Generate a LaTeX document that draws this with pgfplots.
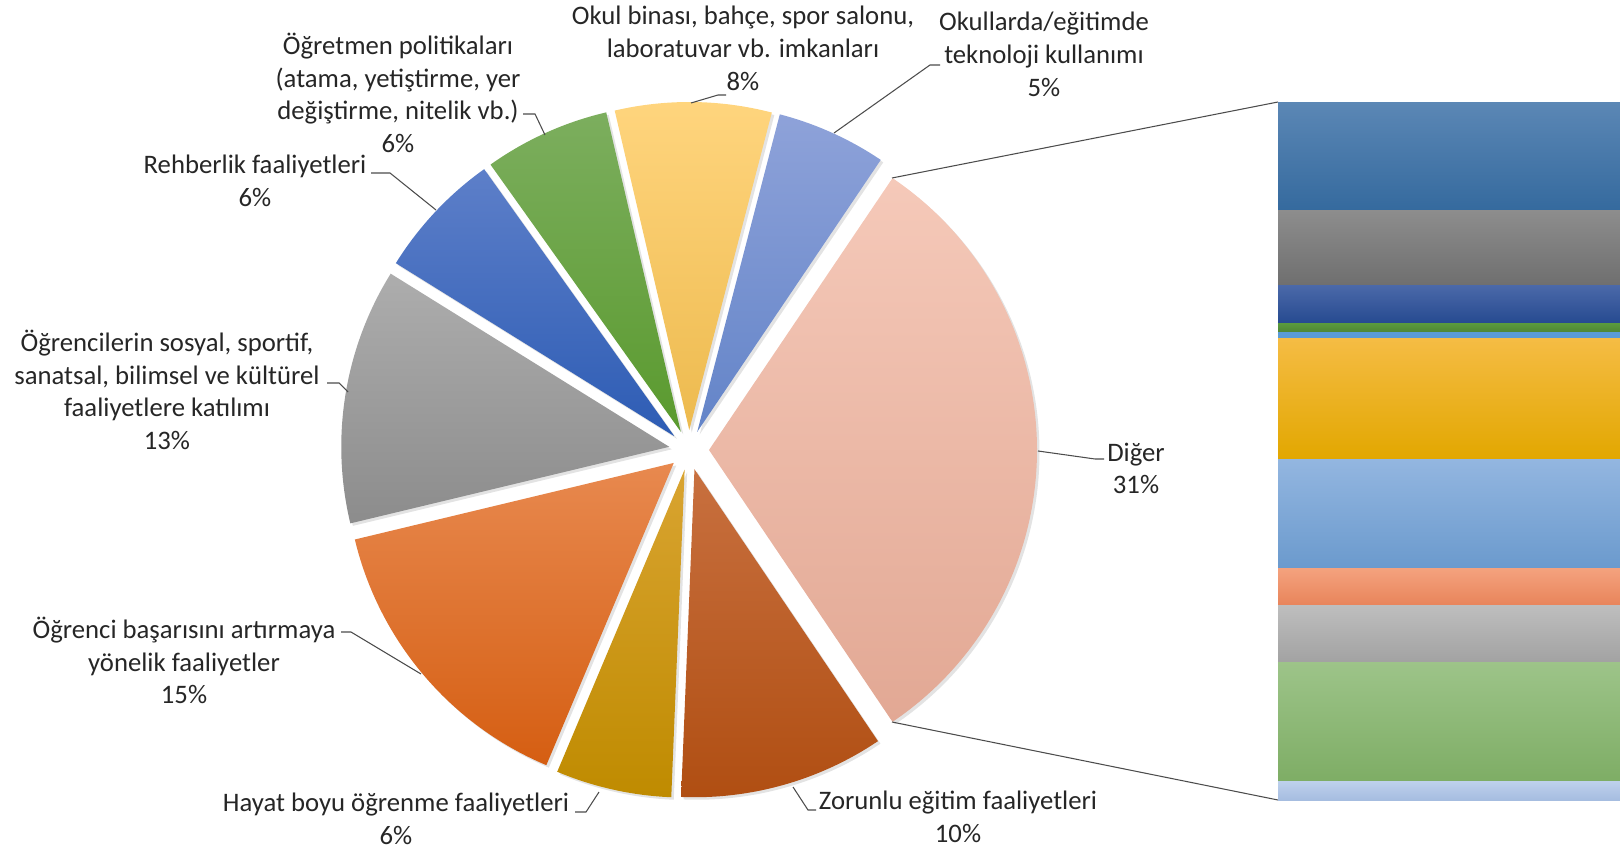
\documentclass[border=0pt]{standalone}
\usepackage{pgfplots}
\pgfplotsset{compat=1.18}
\usepackage{fontspec}
\setmainfont{Carlito}
\usetikzlibrary{shadows}

% pie slices (top / bottom of the gradient)
\definecolor{digT}{HTML}{F5C9B9}\definecolor{digB}{HTML}{E2A894}
\definecolor{tekT}{HTML}{8EA2D9}\definecolor{tekB}{HTML}{6384C8}
\definecolor{okT}{HTML}{FFD57E}\definecolor{okB}{HTML}{EDBA4E}
\definecolor{ogrT}{HTML}{7CAE5E}\definecolor{ogrB}{HTML}{5A9A2E}
\definecolor{rehT}{HTML}{5D7FC9}\definecolor{rehB}{HTML}{2D5CB4}
\definecolor{sosT}{HTML}{ADADAD}\definecolor{sosB}{HTML}{8C8C8C}
\definecolor{basT}{HTML}{E8894F}\definecolor{basB}{HTML}{D55E12}
\definecolor{hayT}{HTML}{D9A431}\definecolor{hayB}{HTML}{BF8B00}
\definecolor{zorT}{HTML}{C8703F}\definecolor{zorB}{HTML}{B04E12}
% bar segments, bottom to top
\definecolor{b1T}{HTML}{BDD0EC}\definecolor{b1B}{HTML}{A5BCE0}
\definecolor{b2T}{HTML}{9DC489}\definecolor{b2B}{HTML}{7EAD65}
\definecolor{b3T}{HTML}{BEBEBE}\definecolor{b3B}{HTML}{A2A2A2}
\definecolor{b4T}{HTML}{F4A27E}\definecolor{b4B}{HTML}{E8845A}
\definecolor{b5T}{HTML}{93B6E0}\definecolor{b5B}{HTML}{6B9ACD}
\definecolor{b6T}{HTML}{F5BC44}\definecolor{b6B}{HTML}{E2A700}
\definecolor{b7T}{HTML}{5B9BD5}\definecolor{b7B}{HTML}{5B9BD5}
\definecolor{b8T}{HTML}{5A9A3E}\definecolor{b8B}{HTML}{4E8533}
\definecolor{b9T}{HTML}{4B69A9}\definecolor{b9B}{HTML}{264A90}
\definecolor{b10T}{HTML}{8D8D8D}\definecolor{b10B}{HTML}{6F6F6F}
\definecolor{b11T}{HTML}{5B87B5}\definecolor{b11B}{HTML}{356A9E}

\begin{document}
\begin{tikzpicture}[
  lab/.style={align=center, inner sep=0pt, text=black!85,
    font=\fontsize{7.6}{9.3}\selectfont},
  lead/.style={draw=black!70, line width=0.3pt}]
\begin{axis}[
  scale only axis, width=162mm, height=84.9mm,
  xmin=0, xmax=1620, ymin=0, ymax=849, y dir=reverse,
  hide axis, clip=false]

% pie: percent / colours, from "Diger" counter-clockwise
\gdef\astart{-55.98}
\foreach \p/\ct/\cb in {31.1/digT/digB, 5.4/tekT/tekB, 7.7/okT/okB, 6.2/ogrT/ogrB,
    6.3/rehT/rehB, 12.6/sosT/sosB, 14.9/basT/basB, 5.7/hayT/hayB, 10.1/zorT/zorB}{
  \pgfmathsetmacro\aend{\astart+3.6*\p}
  \pgfmathsetmacro\amid{(\astart+\aend)/2}
  \pgfmathsetmacro\ox{689+20*cos(\amid)}
  \pgfmathsetmacro\oy{450-20*sin(\amid)}
  \edef\slice{\noexpand\path[top color=\ct, bottom color=\cb,
      drop shadow={shadow xshift=0.25mm, shadow yshift=-0.25mm, opacity=0.22}]
    (axis cs:\ox,\oy) -- ++(\astart:32.8mm)
    arc[start angle=\astart, end angle=\aend, radius=32.8mm] -- cycle;}
  \slice
  \xdef\astart{\aend}
}

% connectors to the bar
\draw[lead] (axis cs:892,178) -- (axis cs:1278,102);
\draw[lead] (axis cs:892,722) -- (axis cs:1278,800);

% leader lines
\draw[lead] (axis cs:691,103) -- (axis cs:718,95) -- (axis cs:726,95);
\draw[lead] (axis cs:834,133) -- (axis cs:930,65) -- (axis cs:940,65);
\draw[lead] (axis cs:545,135) -- (axis cs:535,114) -- (axis cs:523,114);
\draw[lead] (axis cs:436,210) -- (axis cs:390,173) -- (axis cs:371,173);
\draw[lead] (axis cs:348,392) -- (axis cs:339,383) -- (axis cs:327,383);
\draw[lead] (axis cs:421,674) -- (axis cs:351,632) -- (axis cs:341,632);
\draw[lead] (axis cs:599,792) -- (axis cs:586,812) -- (axis cs:575,812);
\draw[lead] (axis cs:793,787) -- (axis cs:808,810) -- (axis cs:816,810);
\draw[lead] (axis cs:1038,451) -- (axis cs:1095,459) -- (axis cs:1104,459);

% labels
\node[lab] at (axis cs:743,48.5) {Okul binası, bahçe, spor salonu,\\laboratuvar vb. imkanları\\8\%};
\node[lab] at (axis cs:1044,54.3) {Okullarda/eğitimde\\teknoloji kullanımı\\5\%};
\node[lab] at (axis cs:398,93) {Öğretmen politikaları\\(atama, yetiştirme, yer\\değiştirme, nitelik vb.)\\6\%};
\node[lab] at (axis cs:255,181) {Rehberlik faaliyetleri\\6\%};
\node[lab] at (axis cs:167,390) {Öğrencilerin sosyal, sportif,\\sanatsal, bilimsel ve kültürel\\faaliyetlere katılımı\\13\%};
\node[lab] at (axis cs:184,660.5) {Öğrenci başarısını artırmaya\\yönelik faaliyetler\\15\%};
\node[lab] at (axis cs:396,818.5) {Hayat boyu öğrenme faaliyetleri\\6\%};
\node[lab] at (axis cs:958,816.5) {Zorunlu eğitim faaliyetleri\\10\%};
\node[lab] at (axis cs:1136,468.5) {Diğer\\31\%};
\end{axis}

% breakdown of "Diger" as one stacked bar
\begin{axis}[
  at={(127.8mm,4.83mm)}, anchor=south west,
  scale only axis, width=34.2mm, height=69.84mm,
  xmin=0, xmax=1, ymin=0, ymax=30.99,
  hide axis, clip=false,
  ybar stacked, bar width=34.2mm]
\addplot[draw=none, top color=b1T, bottom color=b1B] coordinates {(0.5,0.84)};
\addplot[draw=none, top color=b2T, bottom color=b2B] coordinates {(0.5,5.31)};
\addplot[draw=none, top color=b3T, bottom color=b3B] coordinates {(0.5,2.50)};
\addplot[draw=none, top color=b4T, bottom color=b4B] coordinates {(0.5,1.66)};
\addplot[draw=none, top color=b5T, bottom color=b5B] coordinates {(0.5,4.84)};
\addplot[draw=none, top color=b6T, bottom color=b6B] coordinates {(0.5,5.35)};
\addplot[draw=none, top color=b7T, bottom color=b7B] coordinates {(0.5,0.28)};
\addplot[draw=none, top color=b8T, bottom color=b8B] coordinates {(0.5,0.40)};
\addplot[draw=none, top color=b9T, bottom color=b9B] coordinates {(0.5,1.70)};
\addplot[draw=none, top color=b10T, bottom color=b10B] coordinates {(0.5,3.33)};
\addplot[draw=none, top color=b11T, bottom color=b11B] coordinates {(0.5,4.78)};
\end{axis}

\pgfresetboundingbox
\useasboundingbox (0,0) rectangle (162mm,84.9mm);
\end{tikzpicture}
\end{document}
